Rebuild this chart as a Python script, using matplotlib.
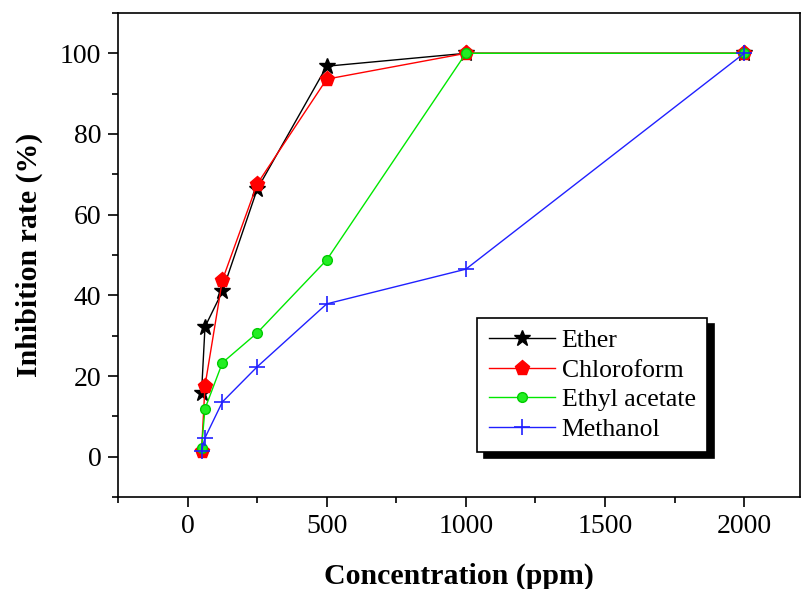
import numpy as np
import matplotlib
matplotlib.use('Agg')
import matplotlib.pyplot as plt
from matplotlib.ticker import MultipleLocator

plt.rcParams['font.family'] = ['Liberation Serif', 'DejaVu Serif']

# ---- data ----
conc = [50, 62.5, 125, 250, 500, 1000, 2000]
ether = [15.8, 32.2, 41.0, 66.3, 96.8, 100, 100]
chloroform = [1.5, 17.6, 43.8, 67.6, 93.6, 100, 100]
ethyl_acetate = [2.2, 11.9, 23.3, 30.7, 48.8, 100, 100]
methanol = [1.5, 4.7, 13.6, 22.3, 37.9, 46.5, 100]

fig = plt.figure(figsize=(8.03, 5.89), dpi=100)
ax = fig.add_axes([0.147, 0.156, 0.849, 0.822])

ax.plot(conc, ether, '-', color='black', lw=1, marker='*', ms=12, label='Ether')
ax.plot(conc, chloroform, '-', color='red', lw=1, marker='p', ms=11, label='Chloroform')
ax.plot(conc, ethyl_acetate, '-', color='#00e800', lw=1, marker='o', ms=7,
        mfc='#22ee22', mec='#00cc00', label='Ethyl acetate')
ax.plot(conc, methanol, '-', color='#2020ff', lw=1, marker='+', ms=12, mew=1.2,
        label='Methanol')

ax.set_xlim(-250, 2200)
ax.set_ylim(-10, 110)
ax.xaxis.set_major_locator(MultipleLocator(500))
ax.xaxis.set_minor_locator(MultipleLocator(250))
ax.yaxis.set_major_locator(MultipleLocator(20))
ax.yaxis.set_minor_locator(MultipleLocator(10))
ax.tick_params(which='both', direction='out', top=False, right=False, labelsize=20)
ax.tick_params(which='major', length=7, width=1.2, pad=5)
ax.tick_params(which='minor', length=4, width=1.2)
for s in ax.spines.values():
    s.set_linewidth(1.2)

ax.set_xlabel('Concentration (ppm)', fontsize=21.5, fontweight='bold', labelpad=17)
ax.set_ylabel('Inhibition rate (%)', fontsize=21.5, fontweight='bold', labelpad=12)

leg = ax.legend(loc='lower right', bbox_to_anchor=(0.864, 0.093), borderaxespad=0,
                fontsize=18.5, fancybox=False, edgecolor='black', framealpha=1,
                shadow={'color': 'black', 'alpha': 1, 'ox': 5, 'oy': -4.5},
                handlelength=2.57, handletextpad=0.25, borderpad=0.45, labelspacing=0.25)
leg.get_frame().set_linewidth(1.2)

plt.savefig('out.png', dpi=100)
